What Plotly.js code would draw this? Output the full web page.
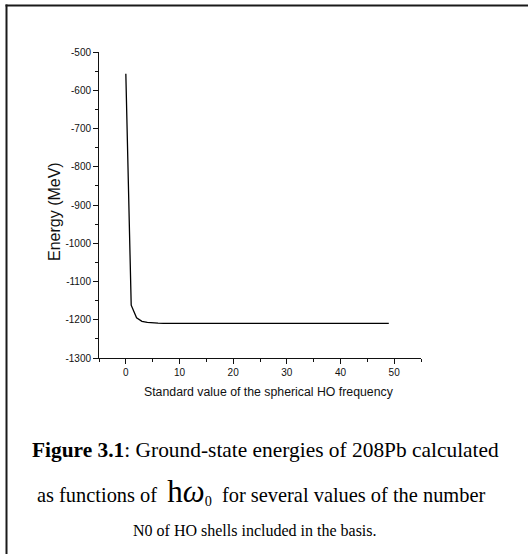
<!DOCTYPE html>
<html>
<head>
<meta charset="utf-8">
<script src="https://cdn.plot.ly/plotly-3.0.1.min.js"></script>
<style>html,body{margin:0;padding:0;background:#fff;}#chart{width:528px;height:554px;}</style>
</head>
<body>
<div id="chart"></div>
<script>
// Standard value of the spherical HO frequency
var hoFrequency = [0,1,2,3,4,5,6,7,8,9,10,11,12,13,14,15,16,17,18,19,20,21,22,23,24,25,26,27,28,29,30,31,32,33,34,35,36,37,38,39,40,41,42,43,44,45,46,47,48,49];
// Ground-state energy (MeV)
var energy = [-557,-1162,-1195,-1204,-1207,-1208.5,-1209,-1209.5,-1209.5,-1209.5,-1209.5,-1209.5,-1209.5,-1209.5,-1209.5,-1209.5,-1209.5,-1209.5,-1209.5,-1209.5,-1209.5,-1209.5,-1209.5,-1209.5,-1209.5,-1209.5,-1209.5,-1209.5,-1209.5,-1209.8,-1211,-1209.8,-1209.5,-1209.5,-1209.5,-1209.5,-1209.5,-1209.5,-1209.5,-1209.5,-1209.5,-1209.5,-1209.5,-1209.5,-1209.5,-1209.5,-1209.5,-1209.5,-1209.5,-1209.5];

var xTickVals = [0,10,20,30,40,50];
var xTickText = ["0","10","20","30","40","50"];
var yTickVals = [-1300,-1200,-1100,-1000,-900,-800,-700,-600,-500];
var yTickText = ["-1300","-1200","-1100","-1000","-900","-800","-700","-600","-500"];

var xTitle = "Standard value of the spherical HO frequency";
var yTitle = "Energy (MeV)";
var caption1 = "<b>Figure 3.1</b>: Ground-state energies of 208Pb calculated";
var caption2 = "as functions of\u00a0 <span style=\"font-size:31px\">h<i>\u03c9</i></span><sub>0</sub>\u00a0 for several values of the number";
var caption3 = "N0 of HO shells included in the basis.";

var sans = "Liberation Sans, Arial, sans-serif";
var serif = "Liberation Serif, Times New Roman, serif";

var trace = {
  x: hoFrequency, y: energy, type: "scatter", mode: "lines",
  line: {color: "#000", width: 1.3}, hoverinfo: "none", showlegend: false
};

// plot area: x 99..421, y 52..358
var H = 306, W = 322;
function py(p){ return (358 - p) / H; }
function px(p){ return (p - 99) / W; }

var layout = {
  width: 528, height: 554,
  margin: {l: 99, r: 107, t: 52, b: 196},
  paper_bgcolor: "#fff", plot_bgcolor: "#fff",
  showlegend: false,
  xaxis: {
    range: [-5, 55], showline: true, linecolor: "#111", linewidth: 1,
    showgrid: false, zeroline: false,
    tickmode: "array", tickvals: xTickVals, ticktext: xTickText,
    ticks: "outside", ticklen: 5, tickwidth: 1, tickcolor: "#111",
    tickfont: {family: sans, size: 10, color: "#111"},
    minor: {tickmode: "linear", tick0: -5, dtick: 5, ticks: "outside", ticklen: 3, tickwidth: 1, tickcolor: "#111", showgrid: false}
  },
  yaxis: {
    range: [-1300, -500], showline: true, linecolor: "#111", linewidth: 1,
    showgrid: false, zeroline: false,
    tickmode: "array", tickvals: yTickVals, ticktext: yTickText,
    ticks: "outside", ticklen: 5, tickwidth: 1, tickcolor: "#111",
    tickfont: {family: sans, size: 10, color: "#111"},
    minor: {tickmode: "linear", tick0: -1300, dtick: 50, ticks: "outside", ticklen: 3, tickwidth: 1, tickcolor: "#111", showgrid: false}
  },
  shapes: [
    {type: "line", xref: "paper", yref: "paper", x0: px(5.5), x1: px(600), y0: py(5.5), y1: py(5.5),
     line: {color: "#1a1a1a", width: 2}, layer: "below"},
    {type: "line", xref: "paper", yref: "paper", x0: px(6.5), x1: px(6.5), y0: py(4.5), y1: py(600),
     line: {color: "#1a1a1a", width: 2}, layer: "below"}
  ],
  annotations: [
    {text: xTitle, xref: "paper", yref: "paper", x: px(268.5), y: py(392), xanchor: "center", yanchor: "middle", showarrow: false,
     font: {family: sans, size: 12.3, color: "#111"}},
    {text: yTitle, xref: "paper", yref: "paper", x: px(55), y: py(212), xanchor: "center", yanchor: "middle", showarrow: false, textangle: -90,
     font: {family: sans, size: 16, color: "#111"}},
    {text: caption1, xref: "paper", yref: "paper", x: px(265.5), y: py(450), xanchor: "center", yanchor: "middle", showarrow: false,
     font: {family: serif, size: 21.4, color: "#000"}},
    {text: caption2, xref: "paper", yref: "paper", x: px(260.5), y: py(491), xanchor: "center", yanchor: "middle", showarrow: false,
     font: {family: serif, size: 20.4, color: "#000"}},
    {text: caption3, xref: "paper", yref: "paper", x: px(255), y: py(530), xanchor: "center", yanchor: "middle", showarrow: false,
     font: {family: serif, size: 16, color: "#000"}}
  ]
};

Plotly.newPlot("chart", [trace], layout, {staticPlot: true, displayModeBar: false});
</script>
</body>
</html>
